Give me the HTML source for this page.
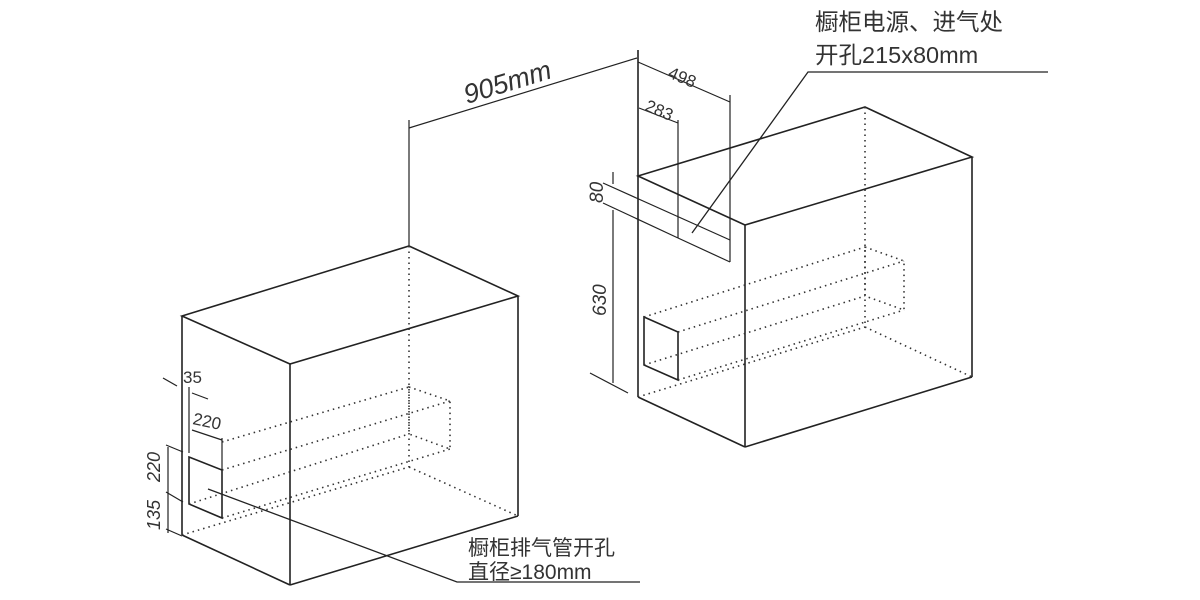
<!DOCTYPE html>
<html><head><meta charset="utf-8"><style>
html,body{margin:0;padding:0;background:#fff;width:1200px;height:600px;overflow:hidden}
svg{display:block}
text{font-family:"Liberation Sans","Noto Sans CJK SC",sans-serif;fill:#333}
</style></head><body>
<svg width="1200" height="600" viewBox="0 0 1200 600">
<g stroke="#222" stroke-width="1.6" fill="none">
<polygon points="182,316 409,246 518,296 290,364"/>
<line x1="182" y1="316" x2="182" y2="535"/>
<line x1="290" y1="364" x2="290" y2="585"/>
<line x1="518" y1="296" x2="518" y2="516"/>
<line x1="182" y1="535" x2="290" y2="585"/>
<line x1="290" y1="585" x2="518" y2="516"/>
<polygon points="189,457 222,470 222,518 189,504"/>
<line x1="409" y1="120" x2="409" y2="246" stroke-width="1.2"/>
<line x1="409" y1="128" x2="637" y2="58" stroke-width="1.2"/>
<line x1="189" y1="387" x2="189" y2="453" stroke-width="1.2"/>
<line x1="163" y1="378" x2="177" y2="386" stroke-width="1.2"/>
<line x1="192" y1="393" x2="208" y2="399" stroke-width="1.2"/>
<line x1="192" y1="430" x2="222" y2="440" stroke-width="1.2"/>
<line x1="222" y1="438" x2="222" y2="470" stroke-width="1.2"/>
<line x1="168" y1="447" x2="168" y2="533" stroke-width="1.2"/>
<line x1="166" y1="445" x2="183" y2="452" stroke-width="1.2"/>
<line x1="166" y1="492" x2="183" y2="502" stroke-width="1.2"/>
<line x1="166" y1="529" x2="182" y2="536" stroke-width="1.2"/>
<polyline points="208,489 457,582 640,582" stroke-width="1.3"/>
<polygon points="638,176 865,107 972,157 745,225"/>
<line x1="638" y1="50" x2="638" y2="397"/>
<line x1="745" y1="225" x2="745" y2="447"/>
<line x1="972" y1="157" x2="972" y2="377"/>
<line x1="638" y1="397" x2="745" y2="447"/>
<line x1="745" y1="447" x2="972" y2="377"/>
<polygon points="644,317 678,332 678,380 644,365"/>
<line x1="638" y1="62" x2="730" y2="102" stroke-width="1.2"/>
<line x1="730" y1="95" x2="730" y2="262" stroke-width="1.2"/>
<line x1="639" y1="108" x2="678" y2="123" stroke-width="1.2"/>
<line x1="678" y1="120" x2="678" y2="238" stroke-width="1.2"/>
<line x1="603" y1="183" x2="730" y2="240" stroke-width="1.2"/>
<line x1="603" y1="203" x2="678" y2="238" stroke-width="1.2"/>
<line x1="678" y1="238" x2="730" y2="262" stroke-width="1.2"/>
<line x1="613" y1="172" x2="613" y2="184" stroke-width="1.2"/>
<line x1="613" y1="210" x2="613" y2="383" stroke-width="1.2"/>
<line x1="590" y1="373" x2="628" y2="393" stroke-width="1.2"/>
<polyline points="692,233 808,72 1048,72" stroke-width="1.3"/>
</g>
<g stroke="#333" stroke-width="1.6" fill="none" stroke-dasharray="1.5 4">
<line x1="409" y1="246" x2="409" y2="467"/>
<line x1="182" y1="535" x2="409" y2="467"/>
<line x1="409" y1="467" x2="518" y2="516"/>
<polygon points="409,387 450,401 450,449 409,434"/>
<line x1="222" y1="442" x2="409" y2="387"/>
<line x1="222" y1="470" x2="450" y2="401"/>
<line x1="222" y1="518" x2="450" y2="449"/>
<line x1="189" y1="504" x2="409" y2="434"/>
<line x1="865" y1="107" x2="865" y2="327"/>
<line x1="638" y1="397" x2="865" y2="327"/>
<line x1="865" y1="327" x2="972" y2="377"/>
<polygon points="865,247 904,261 904,310 865,296"/>
<line x1="644" y1="317" x2="865" y2="247"/>
<line x1="678" y1="332" x2="904" y2="261"/>
<line x1="678" y1="380" x2="904" y2="310"/>
<line x1="644" y1="365" x2="865" y2="296"/>
</g>
<text x="467" y="104" font-size="27" font-style="italic" transform="rotate(-17 467 104)">905mm</text>
<text x="667" y="77" font-size="17" transform="rotate(23 667 77)">498</text>
<text x="644" y="110" font-size="17" transform="rotate(23 644 110)">283</text>
<text x="603" y="203" font-size="19" font-style="italic" transform="rotate(-90 603 203)">80</text>
<text x="606" y="316" font-size="19" font-style="italic" transform="rotate(-90 606 316)">630</text>
<text x="183" y="383" font-size="17">35</text>
<text x="192" y="424" font-size="17" transform="rotate(12 192 424)">220</text>
<text x="160" y="482" font-size="18" font-style="italic" transform="rotate(-90 160 482)">220</text>
<text x="160" y="530" font-size="18" font-style="italic" transform="rotate(-90 160 530)">135</text>
<text x="815" y="30" font-size="23.5">橱柜电源、进气处</text>
<text x="815" y="63" font-size="23.5">开孔215x80mm</text>
<text x="468" y="555" font-size="21">橱柜排气管开孔</text>
<text x="468" y="579" font-size="21">直径≥180mm</text>
</svg>
</body></html>
